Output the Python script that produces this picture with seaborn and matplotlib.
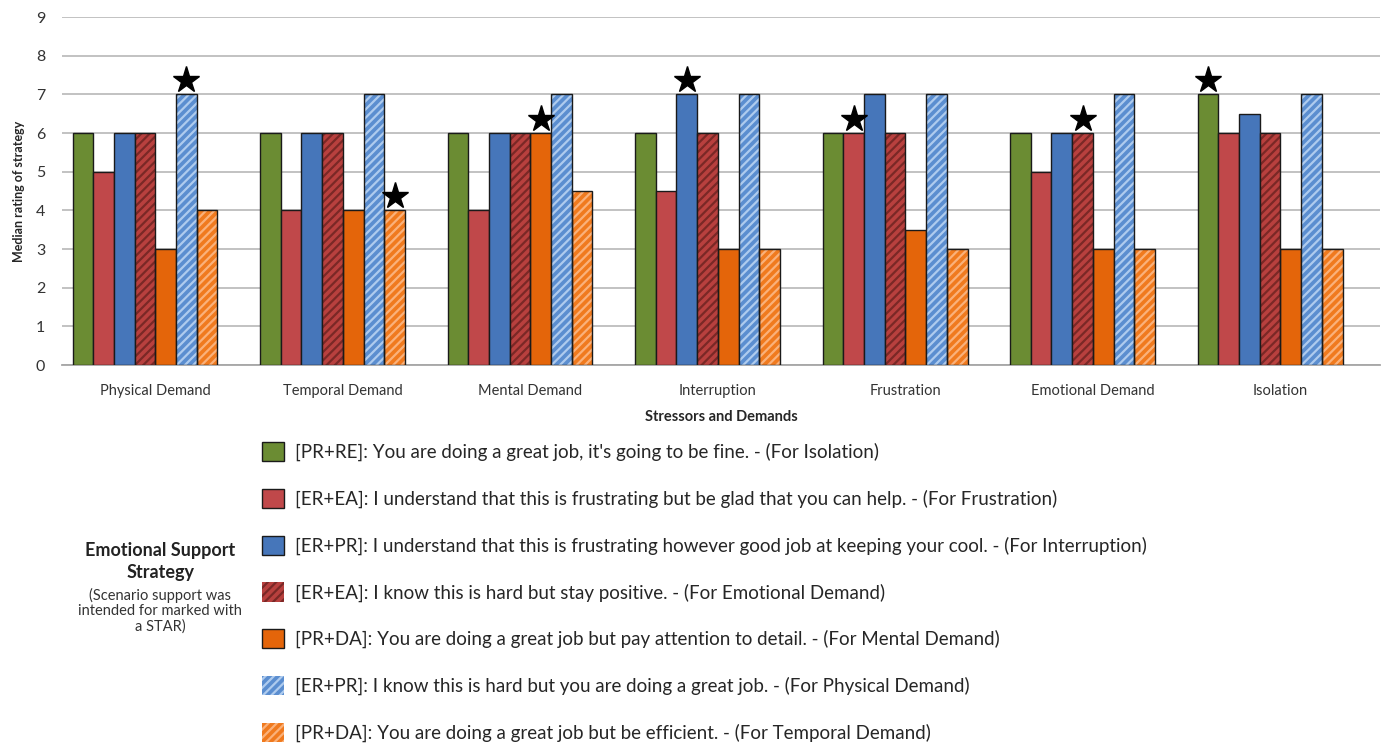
import numpy as np
import pandas as pd
import seaborn as sns
import matplotlib.pyplot as plt
import matplotlib.transforms as mtransforms
from matplotlib.patches import Patch, Rectangle

categories = ["Physical Demand", "Temporal Demand", "Mental Demand", "Interruption",
              "Frustration", "Emotional Demand", "Isolation"]
strategies = [
    "[PR+RE]: You are doing a great job, it's going to be fine. - (For Isolation)",
    "[ER+EA]: I understand that this is frustrating but be glad that you can help. - (For Frustration)",
    "[ER+PR]: I understand that this is frustrating however good job at keeping your cool. - (For Interruption)",
    "[ER+EA]: I know this is hard but stay positive. - (For Emotional Demand)",
    "[PR+DA]: You are doing a great job but pay attention to detail. - (For Mental Demand)",
    "[ER+PR]: I know this is hard but you are doing a great job. - (For Physical Demand)",
    "[PR+DA]: You are doing a great job but be efficient. - (For Temporal Demand)",
]
# values[category][strategy]
physical = [6, 5, 6, 6, 3, 7, 4]
temporal = [6, 4, 6, 6, 4, 7, 4]
mental = [6, 4, 6, 6, 6, 7, 4.5]
interruption = [6, 4.5, 7, 6, 3, 7, 3]
frustration = [6, 6, 7, 6, 3.5, 7, 3]
emotional = [6, 5, 6, 6, 3, 7, 3]
isolation = [7, 6, 6.5, 6, 3, 7, 3]
values = [physical, temporal, mental, interruption, frustration, emotional, isolation]
# index of strategy intended for each category (marked with star)
star_strategy = [5, 6, 4, 2, 1, 3, 0]

colors = ["#6B8C33", "#C0484A", "#4676BA", "#B8403E", "#E4650A", "#5B8ED0", "#F07A1E"]
hatch_colors = [None, None, None, "#7A2826", None, "#AECBEE", "#FAB17A"]

rows = []
for c, vals in zip(categories, values):
    for s, v in zip(strategies, vals):
        rows.append({"Category": c, "Strategy": s, "Value": v})
df = pd.DataFrame(rows)

sns.set_theme(style="white")
plt.rcParams['font.family'] = ['Lato', 'DejaVu Sans']
plt.rcParams['hatch.linewidth'] = 1.6

fig = plt.figure(figsize=(13.89, 7.43), dpi=100)
ax = fig.add_axes([0.0446, 0.5087, 0.949, 0.4683])

sns.barplot(data=df, x="Category", y="Value", hue="Strategy", order=categories,
            hue_order=strategies, palette=colors, saturation=1, width=0.773, gap=0,
            edgecolor="#1a1a1a", linewidth=1.0, legend=False, ax=ax, zorder=3)

for i, cont in enumerate(ax.containers):
    for bar in cont:
        if hatch_colors[i] is not None:
            bar.set_edgecolor(hatch_colors[i])
            bar.set_hatch("////")
            bar.set_linewidth(0)
            ax.add_patch(Rectangle(bar.get_xy(), bar.get_width(), bar.get_height(),
                                   fill=False, edgecolor="#1a1a1a", linewidth=1.0, zorder=4))

# stars
for ci, si in enumerate(star_strategy):
    bar = ax.containers[si][ci]
    ax.plot(bar.get_x() + bar.get_width() / 2, bar.get_height() + 0.36, marker="*",
            color="black", markersize=20, zorder=5, clip_on=False)

ax.set_ylim(0, 9)
ax.set_yticks(range(0, 10))
ax.yaxis.grid(True, color="#BDBDBD", linewidth=1.3, zorder=0)
ax.set_axisbelow(True)
for sp in ["top", "right", "left"]:
    ax.spines[sp].set_visible(False)
ax.spines["bottom"].set_color("#A6A6A6")
ax.spines["bottom"].set_linewidth(1.3)
ax.tick_params(axis="both", length=0)
ax.tick_params(axis="y", labelsize=11.5, pad=12, labelcolor="#333333")
ax.tick_params(axis="x", labelsize=10.5, pad=14, labelcolor="#333333")
ax.set_xlim(-0.443, 6.587)
# category labels sit slightly right of the bar groups
offset = mtransforms.ScaledTranslation(0.10, 0, fig.dpi_scale_trans)
for lab in ax.get_xticklabels():
    lab.set_transform(lab.get_transform() + offset)
ax.set_ylabel("Median rating of strategy", fontsize=9, fontweight="bold", labelpad=8)
ax.set_xlabel("Stressors and Demands", fontsize=10.5, fontweight="bold", labelpad=8)

handles = []
for i, s in enumerate(strategies):
    if hatch_colors[i] is None:
        handles.append(Patch(facecolor=colors[i], edgecolor="#1a1a1a", linewidth=1.0, label=s))
    else:
        handles.append(Patch(facecolor=colors[i], edgecolor=hatch_colors[i], hatch="////",
                             linewidth=0, label=s))
leg = fig.legend(handles=handles, loc="upper left", bbox_to_anchor=(0.1832, 0.415),
                 frameon=False, fontsize=13.5, handlelength=1.17, handleheight=1.2,
                 labelspacing=1.47, handletextpad=0.6, borderaxespad=0)

fig.text(0.1155, 0.244, "Emotional Support\nStrategy", ha="center", va="center",
         fontsize=13, fontweight="bold", color="#222222", linespacing=1.35)
fig.text(0.1155, 0.178, "(Scenario support was\nintended for marked with\na STAR)",
         ha="center", va="center", fontsize=10.5, color="#333333", linespacing=1.1)

fig.savefig("out.png", dpi=100)
